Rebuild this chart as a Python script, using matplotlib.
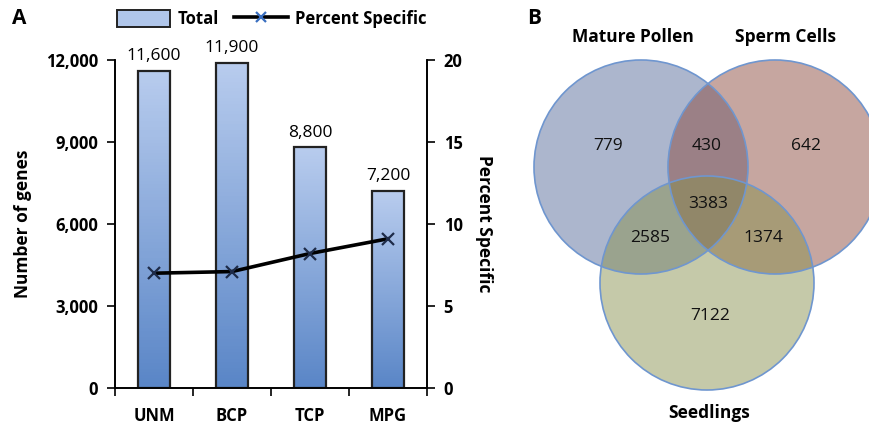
import matplotlib
import numpy as np

matplotlib.use("Agg")
import matplotlib.pyplot as plt
from matplotlib.colors import LinearSegmentedColormap
from matplotlib.lines import Line2D
from matplotlib.patches import Circle, Rectangle

plt.rcParams["font.family"] = ["Open Sans", "DejaVu Sans"]

# panel A data
stages = ["UNM", "BCP", "TCP", "MPG"]
total_genes = [11600, 11900, 8800, 7200]
total_labels = ["11,600", "11,900", "8,800", "7,200"]
percent_specific = [7.0, 7.1, 8.2, 9.1]

# panel B data
set_names = ["Mature Pollen", "Sperm Cells", "Seedlings"]
only_pollen = 779
only_sperm = 642
only_seedling = 7122
pollen_sperm = 430
pollen_seedling = 2585
sperm_seedling = 1374
all_three = 3383

W, H = 870, 425
fig = plt.figure(figsize=(W / 100, H / 100), dpi=100)

# ---------- panel A ----------
ax = fig.add_axes([115 / W, 1 - 388 / H, 312 / W, 328 / H])
ax2 = ax.twinx()

x = np.arange(len(stages)) + 0.5
bar_w = 0.4
grad = LinearSegmentedColormap.from_list("g", ["#5a86c7", "#b8ccee"])
bars = ax.bar(x, total_genes, width=bar_w, facecolor="none",
              edgecolor="#222222", linewidth=1.6, zorder=3)
for b in bars:
    x0, y0 = b.get_x(), b.get_y()
    ax.imshow(np.linspace(0, 1, 100).reshape(-1, 1), cmap=grad,
              origin="lower", aspect="auto",
              extent=(x0, x0 + b.get_width(), y0, y0 + b.get_height()),
              zorder=2)
for xi, v, lab in zip(x, total_genes, total_labels):
    ax.text(xi, v + 250, lab, ha="center", va="bottom", fontsize=12.5)

ax.set_xlim(0, 4)
ax.set_ylim(0, 12000)
ax.set_yticks([0, 3000, 6000, 9000, 12000])
ax.set_yticklabels(["0", "3,000", "6,000", "9,000", "12,000"],
                   fontsize=12, fontweight="bold")
ax.set_xticks([0, 1, 2, 3, 4])
ax.set_xticklabels([])
ax.set_xticks(x, minor=True)
ax.set_xticklabels(stages, minor=True, fontsize=12, fontweight="bold")
ax.tick_params(axis="x", which="minor", length=0, pad=14)
ax.tick_params(axis="x", which="major", length=6, width=1.2, direction="out")
ax.tick_params(axis="y", length=6, width=1.2, direction="out", pad=6)
ax.set_ylabel("Number of genes", fontsize=12.5, fontweight="bold", labelpad=10)
ax.spines["top"].set_visible(False)
ax2.spines["top"].set_visible(False)
for s in ["left", "bottom", "right"]:
    ax.spines[s].set_linewidth(1.2)
    ax2.spines[s].set_linewidth(1.2)

ax2.plot(x, percent_specific, color="black", linewidth=2.6, zorder=5)
ax2.plot(x, percent_specific, linestyle="none", marker="x", markersize=8,
         markeredgewidth=1.6, color="#1e2b48", zorder=6)
ax2.set_ylim(0, 20)
ax2.set_yticks([0, 5, 10, 15, 20])
ax2.set_yticklabels(["0", "5", "10", "15", "20"], fontsize=12, fontweight="bold")
ax2.tick_params(axis="y", length=6, width=1.2, direction="out", pad=6)
ax2.set_ylabel("Percent Specific", fontsize=12.5, fontweight="bold",
               rotation=-90, labelpad=22)

handles = [
    Rectangle((0, 0), 1, 1, facecolor="#b0c6ea", edgecolor="#222222", linewidth=1.4),
    Line2D([0], [0], color="black", linewidth=2.6, marker="x", markersize=7,
           markeredgecolor="#3a6fc0", markeredgewidth=1.6),
]
fig.legend(handles, ["Total", "Percent Specific"], loc="center left",
           bbox_to_anchor=(117 / W, 1 - 19 / H), ncol=2, frameon=False,
           prop={"size": 12, "weight": "bold"}, handlelength=3.2,
           handleheight=1.2, columnspacing=0.9, handletextpad=0.45,
           borderaxespad=0, borderpad=0)

fig.text(12 / W, 1 - 18 / H, "A", fontsize=15, fontweight="bold", va="center")
fig.text(527 / W, 1 - 18 / H, "B", fontsize=15, fontweight="bold", va="center")

# ---------- panel B ----------
vx = fig.add_axes([500 / W, 0, 370 / W, 1])
vx.set_xlim(500, 870)
vx.set_ylim(425, 0)
vx.axis("off")

r = 107
circles = [
    ((641, 167), "#536797"),
    ((775, 167), "#894539"),
    ((707, 283), "#878f4b"),
]
for (c, col) in circles:
    vx.add_patch(Circle(c, r, facecolor=col, alpha=0.48, edgecolor="none"))
for (c, col) in circles:
    vx.add_patch(Circle(c, r, facecolor="none", edgecolor="#6f96cf", linewidth=1.2))

region_pos = [
    (only_pollen, (608, 146)),
    (pollen_sperm, (707, 146)),
    (only_sperm, (806, 146)),
    (all_three, (708, 204)),
    (pollen_seedling, (650, 238)),
    (sperm_seedling, (763, 238)),
    (only_seedling, (710, 316)),
]
for val, (px, py) in region_pos:
    vx.text(px, py, str(val), ha="center", va="center", fontsize=12.5, color="#111111")

title_pos = [(633, 37), (786, 37), (709, 413)]
for name, (px, py) in zip(set_names, title_pos):
    vx.text(px, py, name, ha="center", va="center", fontsize=12.5, fontweight="bold")

fig.savefig("out.png", dpi=100)
